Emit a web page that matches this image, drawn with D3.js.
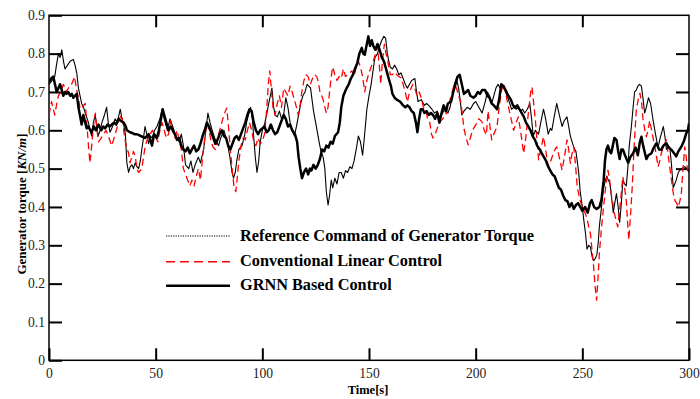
<!DOCTYPE html>
<html>
<head>
<meta charset="utf-8">
<script src="https://cdnjs.cloudflare.com/ajax/libs/d3/7.8.5/d3.min.js"></script>
<style>
  html, body { margin: 0; padding: 0; background: #fff; }
  svg { display: block; }
  .tick text { font-family: "Liberation Serif", "Times New Roman", serif; font-size: 13.6px; fill: #222; }
</style>
</head>
<body>
<svg id="chart" width="700" height="399"></svg>
<script>
// Generator torque response, 0–300 s

const xTicks = [0, 50, 100, 150, 200, 250, 300];
const yTicks = [0, 0.1, 0.2, 0.3, 0.4, 0.5, 0.6, 0.7, 0.8, 0.9];

const seriesNames = [
  "Reference Command of Generator Torque",
  "Conventional Linear Control",
  "GRNN Based Control"
];

// Reference command of generator torque
const refTime = [0,1.5,2.7,3.5,4.4,5.2,6,6.8,7.5,8.7,9.9,11.4,12.2,13,13.8,15.3,16.2,17,18.5,19.3,20,20.8,21.7,22.4,23,24,24.8,26,27,27.8,28.6,29.8,31,32,33.4,34.2,35,35.8,36.5,37.3,38.1,38.9,39.6,40.4,41.2,42,42.8,43.5,44.3,45,45.8,46.7,47.5,48.3,49.5,50.6,52,53,54,55.5,56.7,58,59.5,61,62,63,64,65.5,66.5,67.5,68.5,70,71,72.5,73.5,74.5,75.5,76.5,78,79.5,80.5,82,83.5,84.8,85.8,86.5,87.3,88,89,90.5,91.8,92.6,93.5,94.5,95.3,96,96.7,97.5,98.3,99,100,101,102,103,104.5,105.3,106,107,108,109,110,111,112,113,114,115,116,117,118,119,120,121,121.8,122.6,123.3,124,125,125.8,126.6,127.5,128.5,129.3,130,130.8,131.5,132.3,133,134,135,136,137,138,139,140,141,142,143,144,145,146,147,147.8,149,150,151,152,152.8,154,155,156,157,157.8,158.6,159.3,160,161,162,163,164,165,166,167,168,169,170,171.5,172.3,173,174.5,176,177,178,179.5,180.7,182,183,184,185.5,187,188,189,190,191,192,193,193.5,194.5,196,197.5,199,200,201.5,203,204.5,205.5,206.5,207.5,208.5,209.5,210.5,211.5,212.5,213.7,214.7,215.7,216.8,218,219,220,221,222,223,224.2,225.4,226.2,227,228,229.5,230.5,231.8,232.8,234,235,235.7,236.8,238,239.2,240.5,241.5,242.8,243.6,244.4,245.2,246,247,247.6,248.3,249,250,250.7,251.5,252.2,253,253.8,254.6,255.3,256,256.8,257.5,258,259,259.8,260.6,261.4,262.2,263,263.8,264.5,265.2,266,266.8,267.5,268.3,269,269.8,270.6,271.3,272,273,273.8,274.5,275.3,276,276.8,277.7,278.5,279.2,280,281,282,283.2,284.3,285.5,286.5,288,288.8,289.4,290.2,291,291.8,292.6,293.3,294,295,295.6,296.5,298,299,300];
const refTorque = [0.72,0.73,0.74,0.77,0.80,0.79,0.81,0.78,0.76,0.77,0.78,0.785,0.77,0.75,0.71,0.67,0.66,0.645,0.62,0.60,0.585,0.62,0.64,0.61,0.585,0.60,0.62,0.64,0.66,0.62,0.595,0.61,0.63,0.62,0.655,0.63,0.615,0.59,0.515,0.49,0.505,0.51,0.50,0.515,0.505,0.50,0.52,0.55,0.58,0.61,0.59,0.565,0.585,0.58,0.60,0.61,0.63,0.655,0.63,0.60,0.63,0.61,0.585,0.57,0.59,0.56,0.51,0.50,0.52,0.49,0.51,0.53,0.515,0.55,0.60,0.645,0.62,0.60,0.575,0.56,0.58,0.60,0.57,0.53,0.49,0.475,0.49,0.52,0.55,0.56,0.59,0.62,0.64,0.66,0.63,0.58,0.53,0.49,0.52,0.57,0.60,0.615,0.64,0.67,0.71,0.66,0.64,0.635,0.65,0.63,0.64,0.685,0.66,0.62,0.60,0.585,0.61,0.64,0.67,0.69,0.70,0.72,0.715,0.71,0.68,0.65,0.62,0.595,0.57,0.545,0.53,0.50,0.44,0.405,0.43,0.47,0.45,0.475,0.46,0.49,0.49,0.475,0.495,0.49,0.505,0.50,0.52,0.55,0.585,0.57,0.535,0.58,0.655,0.69,0.72,0.76,0.79,0.80,0.82,0.835,0.845,0.84,0.80,0.78,0.765,0.76,0.77,0.76,0.745,0.75,0.735,0.72,0.71,0.72,0.73,0.735,0.70,0.675,0.68,0.665,0.67,0.665,0.655,0.645,0.65,0.635,0.64,0.655,0.645,0.66,0.69,0.72,0.735,0.71,0.665,0.64,0.65,0.66,0.655,0.67,0.675,0.66,0.645,0.675,0.70,0.69,0.67,0.69,0.71,0.72,0.71,0.715,0.705,0.69,0.675,0.655,0.66,0.655,0.66,0.65,0.655,0.645,0.655,0.67,0.63,0.585,0.60,0.59,0.62,0.655,0.63,0.59,0.605,0.60,0.635,0.67,0.64,0.61,0.625,0.635,0.61,0.585,0.57,0.555,0.545,0.52,0.49,0.44,0.40,0.365,0.33,0.29,0.30,0.295,0.27,0.26,0.265,0.275,0.31,0.35,0.40,0.445,0.465,0.48,0.47,0.46,0.42,0.385,0.41,0.435,0.40,0.36,0.41,0.47,0.46,0.455,0.50,0.56,0.61,0.66,0.70,0.705,0.715,0.72,0.715,0.68,0.645,0.66,0.685,0.67,0.625,0.59,0.555,0.58,0.61,0.58,0.55,0.56,0.555,0.51,0.45,0.46,0.47,0.49,0.495,0.50,0.505,0.50,0.49];

// Conventional linear controller output
const linTime = [0,1.2,2,2.7,3.5,4.4,5.5,6.7,7.5,8.2,9.5,10.6,11.3,12,12.8,13.8,14.5,15.3,16.2,17,17.7,18.5,19.2,20,20.8,21.7,22.5,23.2,24.5,25.6,26.7,27.9,28.7,29.4,30.5,31.8,33,34.2,35,35.8,36.5,37.3,38,38.8,39.6,40.5,41.2,42,42.8,43.5,44.3,45,46,47.4,48.5,49.8,51,52,53,54,55,56,57,58,59,60,61,62,63,64,65,66,67,68,69,70,71,72,73,74,75,76,77,78,79,80,81,82,83.3,84,85,86,86.8,87.6,88.3,89,90,91,92,93,94,95,96,97,98,99,100,101,102,102.8,103.5,104.3,105,106,107,108,109,110,111,112,113,114,115,116,116.8,117.6,118.5,119.5,120.5,121.5,122.5,123.5,124.5,125.5,126.3,127,127.8,128.5,129.3,130,130.8,131.5,132.3,133,134,135,136,137,138,139,140,141,142,143,144,145,146,147,148,149,150,151,152,153,154,155,155.5,156.3,157.2,158,159,160,161,162,163,164,165,166,167,168,169,170.5,171.5,172.5,173.5,174.5,175.5,176.5,177.5,178.5,179.3,180,181,182,183,184.5,186,187,188,189,190,191,192,193,193.8,194.5,195.5,196.5,197.5,198.5,200,201.5,203,204,205,205.8,206.5,207.5,208.5,210,211,212,213,214,215,216,217,217.8,219,220,221,222.5,223.3,224,225,225.8,226.4,227.2,228,228.8,229.5,230.5,231.8,232.8,234,235.2,236.4,237.2,238,239.2,240.5,241.6,242.8,243.6,244.4,245.2,246,246.8,247.6,248.8,250,251.3,252.2,253,253.8,254.4,255.2,256,256.7,257.4,258,258.9,259.8,260.9,262,262.8,263.5,264.3,265,265.8,266.6,267.8,269,269.8,270.6,271.2,271.8,272.6,273.4,274.3,275.3,276.2,277,277.8,278.5,279.3,280,280.8,281.6,282.8,284,284.8,285.5,286.3,287,288.2,289.4,290.6,291.8,292.5,293.3,294.2,295,295.7,296.4,297.2,298,298.7,299.3,300];
const linTorque = [0.64,0.675,0.655,0.64,0.665,0.69,0.70,0.72,0.71,0.70,0.715,0.72,0.73,0.74,0.71,0.685,0.66,0.655,0.665,0.67,0.62,0.56,0.515,0.56,0.61,0.645,0.60,0.57,0.58,0.59,0.60,0.585,0.57,0.56,0.58,0.605,0.63,0.64,0.60,0.57,0.555,0.54,0.515,0.53,0.545,0.53,0.50,0.49,0.495,0.50,0.53,0.555,0.575,0.59,0.60,0.585,0.57,0.60,0.62,0.60,0.58,0.59,0.625,0.60,0.58,0.60,0.575,0.55,0.50,0.485,0.47,0.455,0.47,0.455,0.48,0.50,0.47,0.53,0.58,0.62,0.60,0.57,0.555,0.55,0.58,0.60,0.62,0.64,0.658,0.62,0.55,0.49,0.45,0.44,0.48,0.52,0.56,0.58,0.575,0.60,0.62,0.60,0.57,0.56,0.58,0.565,0.57,0.59,0.65,0.72,0.755,0.70,0.66,0.64,0.67,0.69,0.66,0.71,0.70,0.69,0.715,0.70,0.68,0.66,0.64,0.66,0.70,0.73,0.745,0.74,0.72,0.735,0.745,0.74,0.725,0.70,0.69,0.68,0.66,0.645,0.66,0.70,0.74,0.765,0.745,0.73,0.74,0.735,0.76,0.74,0.745,0.75,0.755,0.74,0.765,0.78,0.765,0.74,0.70,0.73,0.75,0.765,0.78,0.80,0.818,0.76,0.72,0.78,0.825,0.80,0.775,0.745,0.745,0.752,0.745,0.74,0.737,0.72,0.70,0.674,0.70,0.72,0.71,0.69,0.70,0.685,0.66,0.655,0.63,0.62,0.59,0.58,0.59,0.605,0.62,0.63,0.64,0.66,0.68,0.70,0.72,0.71,0.69,0.674,0.64,0.605,0.58,0.562,0.58,0.60,0.614,0.63,0.622,0.60,0.588,0.65,0.62,0.575,0.59,0.609,0.66,0.70,0.723,0.70,0.67,0.645,0.62,0.60,0.62,0.635,0.60,0.54,0.57,0.609,0.66,0.70,0.713,0.67,0.626,0.57,0.523,0.55,0.583,0.55,0.505,0.52,0.54,0.55,0.557,0.53,0.496,0.53,0.575,0.55,0.514,0.54,0.557,0.51,0.453,0.42,0.40,0.384,0.37,0.348,0.33,0.296,0.25,0.192,0.157,0.22,0.28,0.34,0.392,0.45,0.496,0.47,0.435,0.41,0.384,0.365,0.348,0.41,0.479,0.45,0.418,0.36,0.314,0.38,0.453,0.56,0.653,0.68,0.697,0.67,0.626,0.60,0.583,0.60,0.626,0.59,0.557,0.53,0.505,0.52,0.54,0.56,0.575,0.52,0.47,0.44,0.418,0.41,0.40,0.415,0.435,0.50,0.557,0.53,0.496,0.51];

// GRNN based controller output
const grnnTime = [0,1,2,2.8,3.6,4.4,5.2,6,6.7,7.5,8.2,9,10,10.7,11.4,12.2,13,13.8,14.5,15.3,16.1,17,17.7,18.5,19.3,20,21,22,23.2,24.5,25.5,26.3,27.5,28.5,29.4,30.5,31.5,32.6,33.5,35,36,36.5,38,39,40,41,42,43,44,45,46,46.7,47.5,48.3,49.3,50.6,51.5,52.5,53.3,54,55,56,57,58,59,60,61,62,63,64,65,66,67,68,69,70,71,72,73,74,75,76,77,78,79,80,81,82,83,84,85,86,87,88,89,90,91,92,93,94,95,96,97,98,99,100,101,102,103,104,105,106,107,108,109,110,111,112,113,114,115.3,116.3,117,117.8,118.6,119.5,120.5,121.5,122.3,123,124,125,126,127,128,129,130,131,132,133,134,135.5,136.3,137,138,138.7,139.5,140.5,141.5,142.5,143.4,144.5,145.5,146.6,147.3,148,148.8,149.7,150.5,151.3,152,153,154,155,156,157,158,158.5,159.5,160.3,161,162,163,164.5,166,167,168,169,170,171,172,172.7,173.5,174.3,175.2,176,177,178,179,180,181,182,183,184,185,186,187,188.5,189.5,190.5,191.5,192.5,193.5,194.5,195.5,196.5,197.5,199,200,201,202,203,204.4,205.5,206.5,207.5,208.5,210,211,212,213,214,215.3,216.5,217.5,218.5,219.5,220.5,221.6,222.6,223.6,224.7,225.7,226.7,227.8,228.8,230,231,232,233,234,235,236,237,238,239,240,241,242,243,244,245,246,247,248,249,250,251.3,252.5,253.6,254.4,255.5,256.7,258,259,260,260.6,261.3,262,262.8,263.5,264.3,265,266,266.8,267.5,268.3,269,270,271.5,272.5,273.8,275,276,277,277.7,278.5,280,281,282.4,283.5,284.7,286,287,288,289.4,290.5,291.8,293,294,295,296.4,297.5,298.7,299.5,300];
const grnnTorque = [0.725,0.735,0.74,0.72,0.70,0.71,0.72,0.705,0.69,0.70,0.695,0.70,0.69,0.695,0.685,0.69,0.695,0.66,0.64,0.615,0.64,0.62,0.605,0.61,0.60,0.595,0.61,0.60,0.615,0.60,0.61,0.605,0.615,0.61,0.615,0.62,0.615,0.63,0.625,0.62,0.61,0.60,0.595,0.593,0.59,0.59,0.588,0.585,0.583,0.58,0.585,0.59,0.575,0.56,0.59,0.58,0.60,0.63,0.655,0.64,0.62,0.60,0.61,0.60,0.59,0.575,0.58,0.56,0.55,0.545,0.555,0.54,0.55,0.56,0.545,0.55,0.565,0.585,0.60,0.62,0.61,0.595,0.58,0.565,0.575,0.59,0.60,0.585,0.58,0.56,0.55,0.565,0.58,0.585,0.575,0.59,0.605,0.62,0.64,0.655,0.65,0.62,0.60,0.59,0.60,0.605,0.61,0.595,0.60,0.615,0.60,0.59,0.595,0.61,0.625,0.64,0.63,0.61,0.615,0.60,0.59,0.57,0.53,0.50,0.475,0.49,0.50,0.485,0.50,0.495,0.51,0.50,0.51,0.525,0.55,0.545,0.56,0.555,0.57,0.565,0.585,0.595,0.62,0.66,0.69,0.70,0.71,0.72,0.735,0.745,0.76,0.775,0.80,0.815,0.80,0.797,0.82,0.845,0.82,0.835,0.82,0.81,0.825,0.81,0.79,0.78,0.76,0.75,0.73,0.715,0.695,0.685,0.68,0.675,0.665,0.66,0.665,0.66,0.65,0.645,0.62,0.595,0.63,0.655,0.655,0.645,0.65,0.64,0.645,0.64,0.63,0.645,0.62,0.645,0.665,0.65,0.67,0.675,0.70,0.72,0.74,0.745,0.72,0.695,0.70,0.705,0.69,0.685,0.69,0.70,0.695,0.705,0.705,0.69,0.685,0.67,0.665,0.655,0.68,0.72,0.715,0.705,0.69,0.68,0.665,0.66,0.665,0.655,0.645,0.635,0.62,0.61,0.60,0.585,0.575,0.56,0.55,0.54,0.53,0.52,0.505,0.495,0.485,0.48,0.465,0.45,0.445,0.43,0.418,0.415,0.40,0.41,0.395,0.405,0.41,0.40,0.39,0.40,0.385,0.41,0.418,0.40,0.395,0.40,0.42,0.47,0.52,0.55,0.56,0.545,0.54,0.56,0.58,0.575,0.545,0.525,0.55,0.55,0.535,0.515,0.53,0.54,0.555,0.535,0.57,0.583,0.56,0.525,0.535,0.54,0.555,0.566,0.55,0.549,0.56,0.566,0.555,0.549,0.54,0.532,0.545,0.557,0.57,0.592,0.60,0.618];

const svg = d3.select("#chart");
const plotLeft = 49, plotRight = 689, plotTop = 15.3, plotBottom = 360.3;

const x = d3.scaleLinear().domain([0, 300]).range([plotLeft, plotRight]);
const y = d3.scaleLinear().domain([0, 0.9]).range([plotBottom, plotTop]);

const serif = '"Liberation Serif", "Times New Roman", serif';

// Inward-pointing ticks on all four sides
function styleAxis(g) {
  g.select(".domain").remove();
  g.selectAll(".tick line").attr("stroke", "#000").attr("stroke-width", 2);
}

svg.append("g")
  .attr("transform", `translate(0,${plotBottom})`)
  .call(d3.axisBottom(x).tickValues(xTicks).tickSize(-12).tickPadding(8.5).tickFormat(d3.format("d")))
  .call(styleAxis);

svg.append("g")
  .attr("transform", `translate(0,${plotTop})`)
  .call(d3.axisTop(x).tickValues(xTicks.slice(1, -1)).tickSize(-12).tickFormat(""))
  .call(styleAxis);

svg.append("g")
  .attr("transform", `translate(${plotLeft},0)`)
  .call(d3.axisLeft(y).tickValues(yTicks).tickSize(-13).tickPadding(4)
    .tickFormat(d => d === 0 ? "0" : d3.format(".1f")(d)))
  .call(styleAxis);

svg.append("g")
  .attr("transform", `translate(${plotRight},0)`)
  .call(d3.axisRight(y).tickValues(yTicks.slice(1, -1)).tickSize(-13).tickFormat(""))
  .call(styleAxis);

svg.selectAll(".tick text").attr("fill", "#222");

// Frame
svg.append("rect")
  .attr("x", plotLeft).attr("y", plotTop)
  .attr("width", plotRight - plotLeft).attr("height", plotBottom - plotTop)
  .attr("fill", "none").attr("stroke", "#000").attr("stroke-width", 1.5);

// Series
svg.append("clipPath").attr("id", "plotClip")
  .append("rect").attr("x", plotLeft).attr("y", plotTop)
  .attr("width", plotRight - plotLeft).attr("height", plotBottom - plotTop);

const plot = svg.append("g").attr("clip-path", "url(#plotClip)");

const line = d3.line().x(d => x(d[0])).y(d => y(d[1]));

const styles = [
  { stroke: "#000", width: 1.1, dash: null, legendDash: "1.2,1.2" },
  { stroke: "#ff0000", width: 1.3, dash: "7,4", legendDash: "9,5" },
  { stroke: "#000", width: 2.5, dash: null, legendDash: null }
];

const seriesData = [
  d3.zip(refTime, refTorque),
  d3.zip(linTime, linTorque),
  d3.zip(grnnTime, grnnTorque)
];

seriesData.forEach((data, i) => {
  plot.append("path")
    .datum(data)
    .attr("d", line)
    .attr("fill", "none")
    .attr("stroke", styles[i].stroke)
    .attr("stroke-width", styles[i].width)
    .attr("stroke-linejoin", "round")
    .attr("stroke-dasharray", styles[i].dash);
});

// Legend
const legend = svg.append("g");
const legendRows = [236, 261.7, 285.7];
seriesNames.forEach((name, i) => {
  legend.append("line")
    .attr("x1", 166).attr("x2", 230)
    .attr("y1", legendRows[i]).attr("y2", legendRows[i])
    .attr("stroke", styles[i].stroke)
    .attr("stroke-width", i === 2 ? 2.5 : (i === 1 ? 1.5 : 1))
    .attr("stroke-dasharray", styles[i].legendDash);
  legend.append("text")
    .attr("x", 240).attr("y", legendRows[i] + 4.7)
    .attr("font-family", serif).attr("font-weight", "bold")
    .attr("font-size", "16.3px").attr("fill", "#000")
    .text(name);
});

// Axis titles
svg.append("text")
  .attr("x", 368).attr("y", 393.5)
  .attr("text-anchor", "middle")
  .attr("font-family", serif).attr("font-weight", "bold").attr("font-size", "12.5px")
  .text("Time[s]");

const yTitle = svg.append("text")
  .attr("transform", "translate(25.5,204) rotate(-90)")
  .attr("text-anchor", "middle")
  .attr("font-family", serif).attr("font-weight", "bold").attr("font-size", "13px");
yTitle.append("tspan").text("Generator torque [");
yTitle.append("tspan").attr("font-style", "italic").text("KN/m");
yTitle.append("tspan").text("]");
</script>
</body>
</html>
